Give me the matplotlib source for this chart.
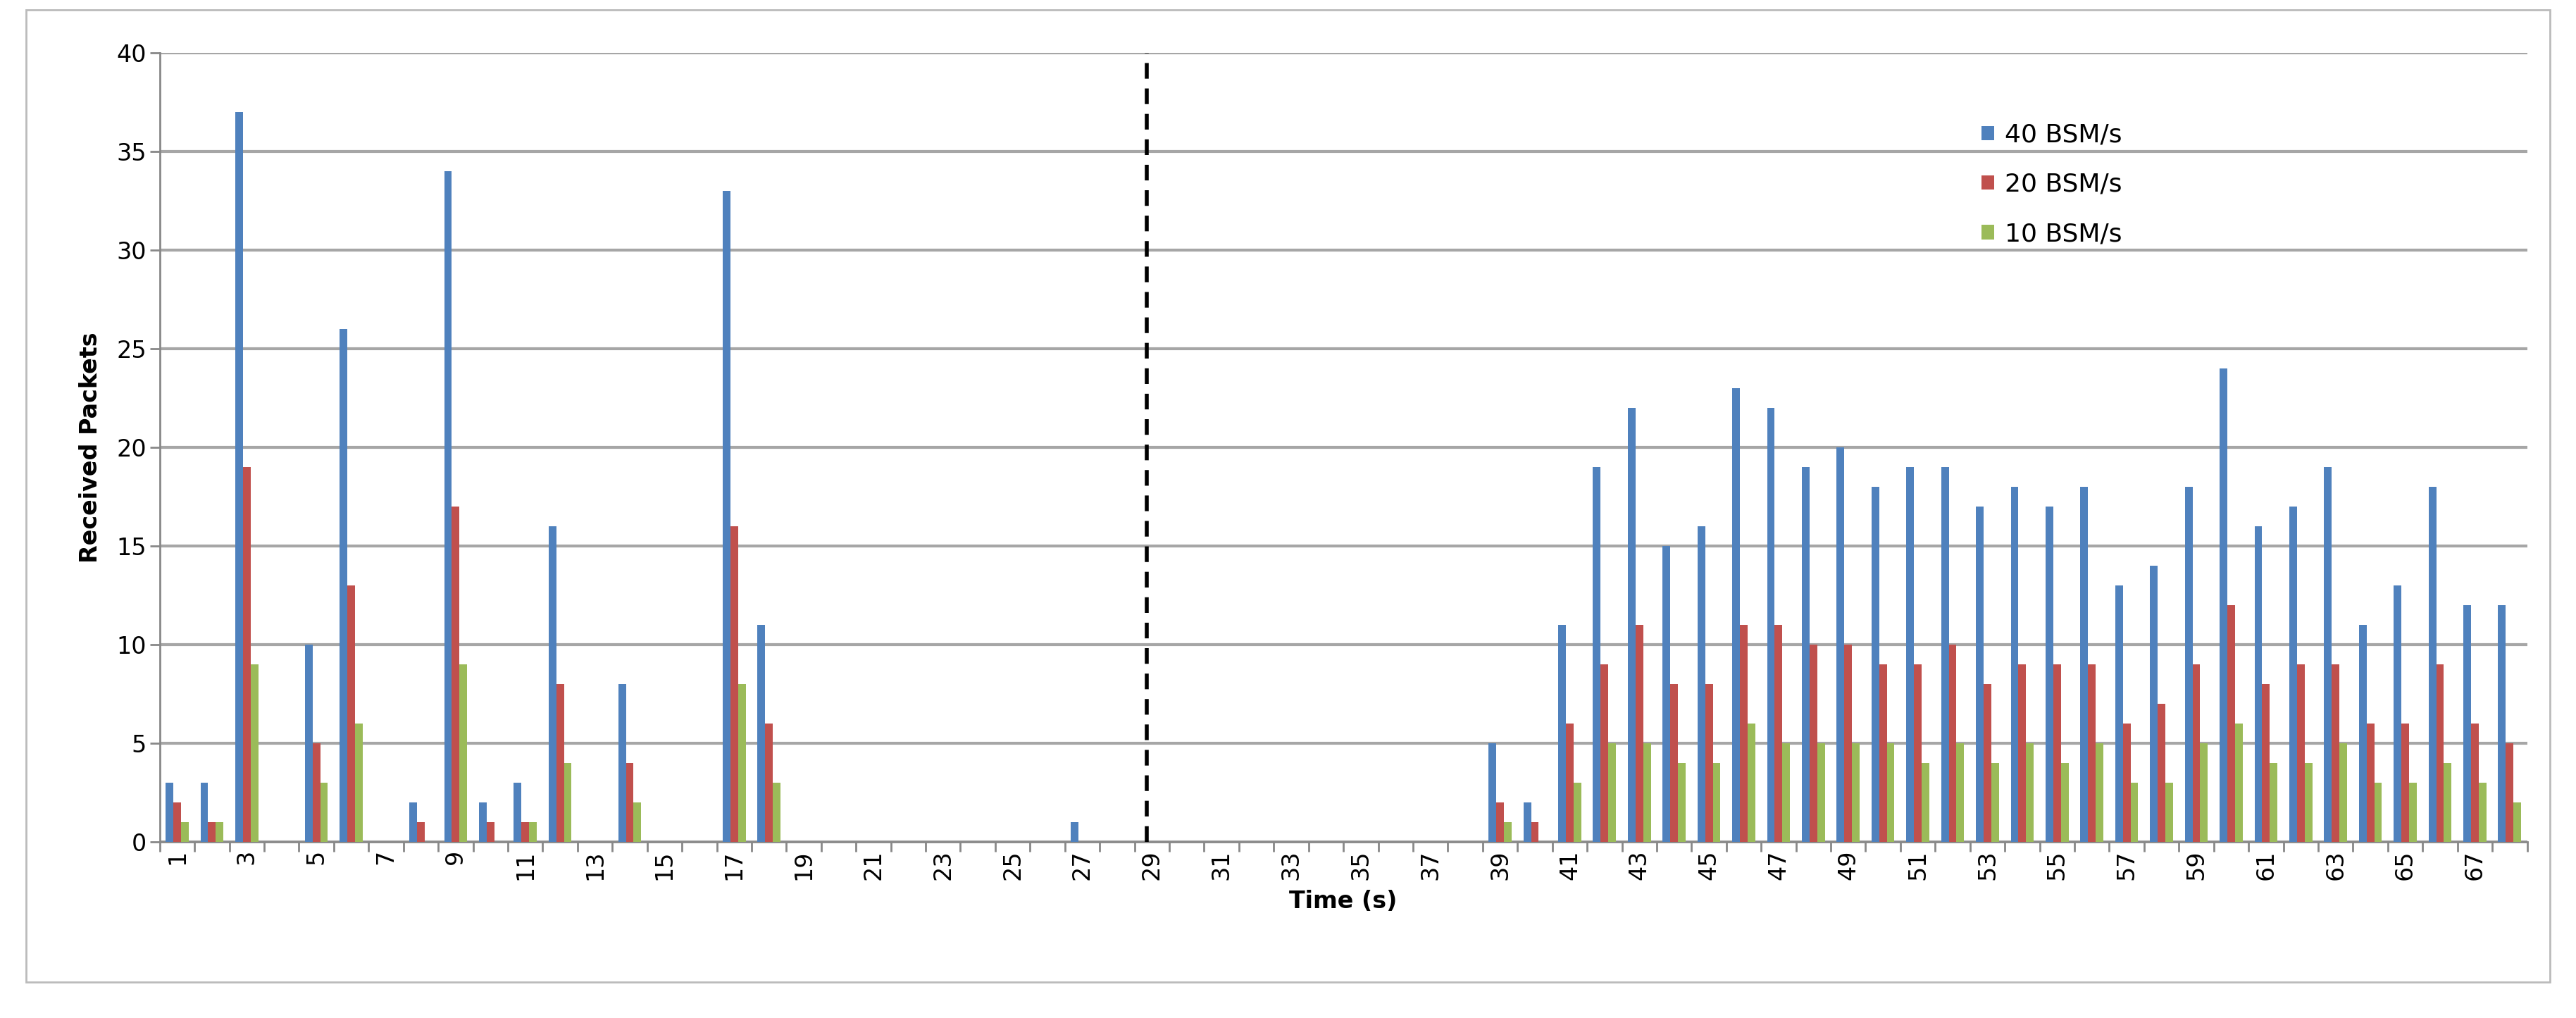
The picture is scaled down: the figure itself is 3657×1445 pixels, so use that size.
import matplotlib
matplotlib.use("Agg")
import matplotlib.pyplot as plt
import numpy as np

times = list(range(1, 69))
s40 = [3,3,37,0,10,26,0,2,34,2,3,16,0,8,0,0,33,11,0,0,0,0,0,0,0,0,1,0,0,0,0,0,0,0,0,0,0,0,
       5,2,11,19,22,15,16,23,22,19,20,18,19,19,17,18,17,18,13,14,18,24,16,17,19,11,13,18,12,12]
s20 = [2,1,19,0,5,13,0,1,17,1,1,8,0,4,0,0,16,6,0,0,0,0,0,0,0,0,0,0,0,0,0,0,0,0,0,0,0,0,
       2,1,6,9,11,8,8,11,11,10,10,9,9,10,8,9,9,9,6,7,9,12,8,9,9,6,6,9,6,5]
s10 = [1,1,9,0,3,6,0,0,9,0,1,4,0,2,0,0,8,3,0,0,0,0,0,0,0,0,0,0,0,0,0,0,0,0,0,0,0,0,
       1,0,3,5,5,4,4,6,5,5,5,5,4,5,4,5,4,5,3,3,5,6,4,4,5,3,3,4,3,2]
names = ["40 BSM/s", "20 BSM/s", "10 BSM/s"]
colors = ["#4F81BD", "#C0504D", "#9BBB59"]

fig = plt.figure(figsize=(36.57, 14.45), dpi=100)
fig.patches.append(plt.Rectangle((0.01, 0.035), 0.98, 0.955, transform=fig.transFigure,
                                 fill=False, edgecolor="#BBBBBB", lw=2))
ax = fig.add_axes([0.062, 0.173, 0.919, 0.775])
x = np.array(times)
w = 0.22
for i, (s, n, c) in enumerate(zip([s40, s20, s10], names, colors)):
    ax.bar(x + (i - 1) * w, s, width=w, color=c, label=n, zorder=3)
ax.axvline(28.85, color="black", ls=(0, (4, 2.5)), lw=4, zorder=4)
ax.set_xlim(0.5, 68.5)
ax.set_ylim(0, 40)
ax.set_yticks(range(0, 41, 5))
ax.grid(axis="y", color="#A6A6A6", lw=3, zorder=0)
ax.set_xticks(x[::2])
ax.set_xticklabels([str(t) for t in times[::2]], rotation=90, fontsize=24)
ax.set_xticks(np.arange(0.5, 69, 1), minor=True)
ax.tick_params(axis="x", which="major", length=0, pad=8)
ax.tick_params(axis="x", which="minor", length=10, color="#888888", width=2)
ax.tick_params(axis="y", labelsize=24, length=10, color="#888888", width=2)
for sp in ["top", "right"]:
    ax.spines[sp].set_visible(False)
ax.spines["left"].set_color("#888888"); ax.spines["left"].set_linewidth(2)
ax.spines["bottom"].set_color("#888888"); ax.spines["bottom"].set_linewidth(2)
ax.set_xlabel("Time (s)", fontsize=24, fontweight="bold", labelpad=10)
ax.set_ylabel("Received Packets", fontsize=24, fontweight="bold", labelpad=15)
ax.legend(loc="upper left", bbox_to_anchor=(0.76, 0.94), frameon=False, fontsize=26,
          handlelength=0.5, handleheight=0.5, labelspacing=1.0, handletextpad=0.4)
fig.savefig("out.png", dpi=100)
